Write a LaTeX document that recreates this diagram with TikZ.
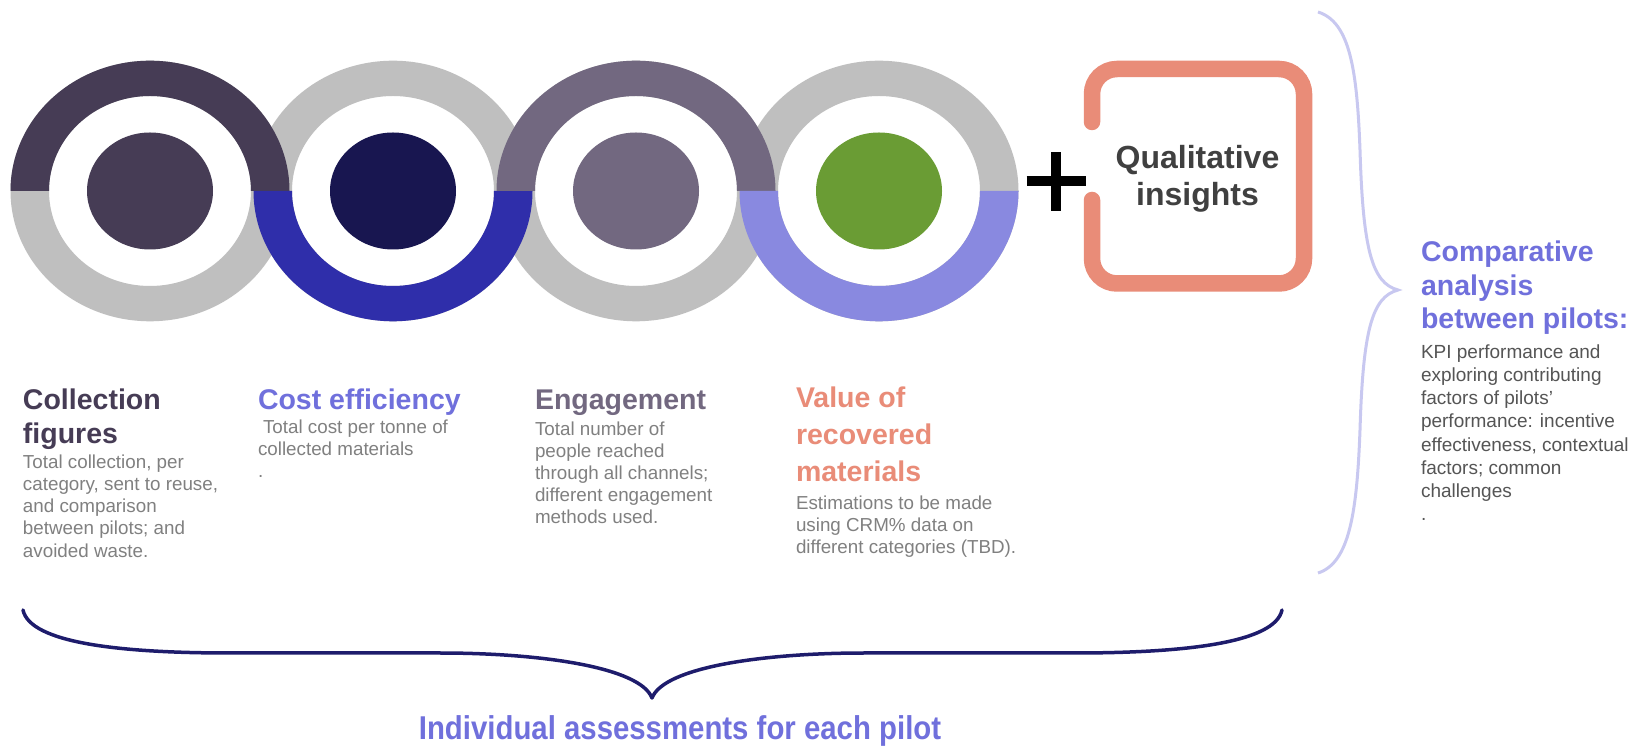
\documentclass[tikz,border=0pt]{standalone}
\usepackage{fontspec}
\setmainfont{Liberation Sans}
\newfontfamily\narrowfont[FakeStretch=0.89]{Liberation Sans}
\usepackage{tikz}
\definecolor{inkpurple}{RGB}{70,60,85}
\definecolor{ringgray}{RGB}{191,191,191}
\definecolor{cobalt}{RGB}{47,46,170}
\definecolor{navydot}{RGB}{24,22,80}
\definecolor{mauve}{RGB}{114,104,128}
\definecolor{periwinkle}{RGB}{137,137,224}
\definecolor{moss}{RGB}{106,156,52}
\definecolor{salmon}{RGB}{233,140,120}
\definecolor{headblue}{RGB}{112,112,220}
\definecolor{bodygray}{RGB}{128,128,128}
\definecolor{notegray}{RGB}{85,85,85}
\definecolor{qualgray}{RGB}{64,64,64}
\definecolor{bracenavy}{RGB}{30,28,108}
\definecolor{bracelilac}{RGB}{200,200,240}
\tikzset{
  heading/.style={anchor=north west,inner sep=0pt,outer sep=0pt,align=left,
    font=\fontsize{28.5}{33.3}\selectfont\bfseries},
  blurb/.style={anchor=north west,inner sep=0pt,outer sep=0pt,align=left,
    text=bodygray,font=\fontsize{18.8}{22.2}\selectfont}
}

\begin{document}
\begin{tikzpicture}[x=1pt,y=1pt]
\fill[white] (0,0) rectangle (1641,747);
\useasboundingbox (0,0) rectangle (1641,747);

\foreach \cx in {150,393,636,879}
  \fill[ringgray,even odd rule] (\cx,556) ellipse [x radius=139.5,y radius=130.3]
                                (\cx,556) ellipse [x radius=101,y radius=95];
\foreach \cx/\sweep/\tint in {150/0/inkpurple,393/360/cobalt,636/0/mauve,879/360/periwinkle}
  \fill[\tint] (\cx-139.5,556) arc [start angle=180,end angle=\sweep,x radius=139.5,y radius=130.3]
    -- (\cx+101,556) arc [start angle=\sweep,end angle=180,x radius=101,y radius=95] -- cycle;
\foreach \cx/\tint in {150/inkpurple,393/navydot,636/mauve,879/moss}
  \fill[\tint] (\cx,556) ellipse [x radius=63,y radius=58.5];

\draw[line width=9.5pt] (1026.5,566) -- (1085.5,566) (1056,594.5) -- (1056,535.5);
\draw[salmon,line width=16.5pt,line cap=round,rounded corners=25pt]
  (1092,625) -- (1092,678) -- (1304,678) -- (1304,463.5) -- (1092,463.5) -- (1092,547);
\node[anchor=north,inner sep=0pt,outer sep=0pt,align=center,text=qualgray,
  font=\fontsize{32}{37.4}\selectfont\bfseries] (qual) at (1197.5,604.9) {\strut Qualitative\\insights};

\node[heading,text=inkpurple] (collecthead) at (23,360.6) {\strut Collection\\figures};
\node[blurb] (collectnote) at (23,294.2)
  {\strut Total collection, per\\category, sent to reuse,\\and comparison\\between pilots; and\\avoided waste.};
\node[heading,text=headblue] (costhead) at (258,360.6) {\strut Cost efficiency};
\node[blurb] (costnote) at (258,329) {\strut\hspace*{5pt}Total cost per tonne of\\collected materials\\.};
\node[heading,text=mauve] (engagehead) at (535,360.6) {\strut Engagement};
\node[blurb] (engagenote) at (535,327.5)
  {\strut Total number of\\people reached\\through all channels;\\different engagement\\methods used.};
\node[heading,text=salmon,font=\fontsize{28.5}{37}\selectfont\bfseries] (valuehead) at (796,364.9)
  {\strut Value of\\recovered\\materials};
\node[blurb] (valuenote) at (796,253.5)
  {\strut Estimations to be made\\using CRM\% data on\\different categories (TBD).};

\node[heading,text=headblue] (comparehead) at (1421,508.6) {\strut Comparative\\analysis\\between pilots:};
\node[blurb,text=notegray,font=\fontsize{19}{23.2}\selectfont] (comparenote) at (1421,404.9)
  {\strut KPI performance and\\exploring contributing\\factors of pilots'\\performance: incentive\\effectiveness, contextual\\factors; common\\challenges\\.};

\draw[bracelilac,line width=3pt] (1318,735) .. controls (1350,725) and (1357,677) .. (1360,597)
  .. controls (1363,497) and (1372,464) .. (1398,457)
  .. controls (1372,450) and (1363,417) .. (1360,317)
  .. controls (1357,237) and (1350,184) .. (1318,174);
\draw[bracenavy,line width=3.5pt,line join=round,line cap=round] (23,137) .. controls (30,104) and (120,94) .. (230,94)
  -- (440,94) .. controls (540,94) and (640,80) .. (652,49)
  .. controls (664,80) and (764,94) .. (864,94)
  -- (1074,94) .. controls (1184,94) and (1275,104) .. (1282,137);
\node[anchor=base,inner sep=0pt,text=headblue,font=\narrowfont\fontsize{33}{38}\selectfont\bfseries]
  (pilotlabel) at (680,8) {Individual assessments for each pilot};
\end{tikzpicture}
\end{document}
